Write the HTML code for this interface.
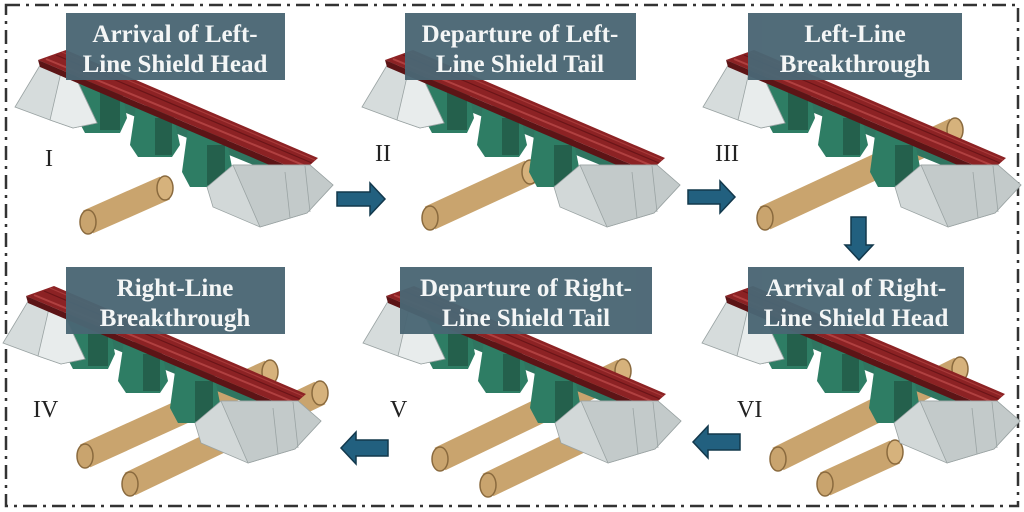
<!DOCTYPE html>
<html><head><meta charset="utf-8"><style>
html,body{margin:0;padding:0;background:#fff;}
svg{display:block;}
.lbl{font-family:"Liberation Serif",serif;font-weight:bold;font-size:25px;fill:#f4f6f6;text-anchor:middle;}
.rn{font-family:"Liberation Serif",serif;font-size:24px;fill:#222;}
</style></head><body>
<svg width="1024" height="512" viewBox="0 0 1024 512" xmlns="http://www.w3.org/2000/svg">
<defs>
<g id="bridge">
  <polygon points="60,72 300,172 300,184 60,86" fill="#2f7560"/>
  <polygon points="80,78 120,80 127,118 120,133 85,133 77,118" fill="#2e7d64"/>
  <polygon points="100,88 120,88 120,130 100,130" fill="#24604c"/>
  <polygon points="136,105 172,108 180,145 172,157 138,157 130,145" fill="#2e7d64"/>
  <polygon points="155,118 172,118 172,155 155,155" fill="#24604c"/>
  <polygon points="188,128 225,132 233,172 225,187 190,187 182,172" fill="#2e7d64"/>
  <polygon points="207,145 225,145 225,185 207,185" fill="#24604c"/>
  <polygon points="15,107 42,62 73,72 97,123 73,128 50,120" fill="#d6dcdc" stroke="#9aa3a3" stroke-width="0.8"/>
  <polygon points="50,120 62,68 73,72 97,123 73,128" fill="#e8ecec" stroke="#9aa3a3" stroke-width="0.8"/>
  <polygon points="38,60 66,50 318,158 302,172" fill="#8c2224"/>
  <line x1="46" y1="59" x2="308" y2="167" stroke="#b04040" stroke-width="2"/>
  <line x1="56" y1="55" x2="312" y2="163" stroke="#6a1518" stroke-width="1.2"/>
  <line x1="62" y1="52" x2="315" y2="160" stroke="#a83a3a" stroke-width="1.2"/>
  <polygon points="38,60 302,172 300,178 40,67" fill="#5c1416"/>
  <polygon points="207,187 233,165 310,165 333,185 307,213 260,227 213,207" fill="#d2d8d8" stroke="#9aa3a3" stroke-width="0.8"/>
  <polygon points="233,165 260,227 307,213 333,185 310,165" fill="#c3caca" stroke="#9aa3a3" stroke-width="0.8"/>
  <line x1="285" y1="172" x2="290" y2="218" stroke="#9aa3a3" stroke-width="0.8"/>
  <line x1="305" y1="166" x2="310" y2="212" stroke="#9aa3a3" stroke-width="0.8"/>
</g>
</defs>

<rect x="6" y="5" width="1012" height="501" fill="none" stroke="#333" stroke-width="2.5" stroke-dasharray="14,6,3,6"/>

<g stroke-linecap="butt">
  <line x1="88" y1="222" x2="165" y2="188" stroke="#c9a46e" stroke-width="25"/>
  <line x1="430" y1="218" x2="530" y2="172" stroke="#c9a46e" stroke-width="25"/>
  <line x1="765" y1="218" x2="955" y2="130" stroke="#c9a46e" stroke-width="25"/>
  <line x1="85" y1="456" x2="270" y2="372" stroke="#c9a46e" stroke-width="25"/>
  <line x1="130" y1="484" x2="320" y2="393" stroke="#c9a46e" stroke-width="25"/>
  <line x1="440" y1="459" x2="623" y2="371" stroke="#c9a46e" stroke-width="25"/>
  <line x1="488" y1="485" x2="640" y2="412" stroke="#c9a46e" stroke-width="25"/>
  <line x1="778" y1="459" x2="960" y2="369" stroke="#c9a46e" stroke-width="25"/>
  <line x1="825" y1="484" x2="895" y2="452" stroke="#c9a46e" stroke-width="25"/>
  <g fill="#c9a46e" stroke="#8a6a3e" stroke-width="1.5">
  <ellipse cx="88" cy="222" rx="8" ry="12"/>
  <ellipse cx="430" cy="218" rx="8" ry="12"/>
  <ellipse cx="765" cy="218" rx="8" ry="12"/>
  <ellipse cx="85" cy="456" rx="8" ry="12"/>
  <ellipse cx="130" cy="484" rx="8" ry="12"/>
  <ellipse cx="440" cy="459" rx="8" ry="12"/>
  <ellipse cx="488" cy="485" rx="8" ry="12"/>
  <ellipse cx="778" cy="459" rx="8" ry="12"/>
  <ellipse cx="825" cy="484" rx="8" ry="12"/>
  <ellipse cx="955" cy="130" rx="8" ry="12" fill="#d6b27c"/>
  <ellipse cx="960" cy="369" rx="8" ry="12" fill="#d6b27c"/>
  <ellipse cx="623" cy="371" rx="8" ry="12" fill="#d6b27c"/>
  <ellipse cx="270" cy="372" rx="8" ry="12" fill="#d6b27c"/>
  <ellipse cx="320" cy="393" rx="8" ry="12" fill="#d6b27c"/>
  <ellipse cx="165" cy="188" rx="8" ry="12" fill="#d6b27c"/>
  <ellipse cx="530" cy="172" rx="8" ry="12" fill="#d6b27c"/>
  <ellipse cx="895" cy="452" rx="8" ry="12" fill="#d6b27c"/>
  </g>
</g>

<use href="#bridge" transform="translate(0,0)"/>
<use href="#bridge" transform="translate(347,0)"/>
<use href="#bridge" transform="translate(688,0)"/>
<use href="#bridge" transform="translate(-12,236)"/>
<use href="#bridge" transform="translate(348,236)"/>
<use href="#bridge" transform="translate(687,236)"/>

<g fill="#4a6674" opacity="0.96">
  <rect x="66" y="13" width="219" height="67"/>
  <rect x="405" y="13" width="231" height="67"/>
  <rect x="748" y="13" width="214" height="67"/>
  <rect x="66" y="267" width="219" height="67"/>
  <rect x="400" y="267" width="252" height="67"/>
  <rect x="748" y="267" width="216" height="67"/>
</g>
<text class="lbl" x="175" y="42">Arrival of Left-</text>
<text class="lbl" x="175" y="72">Line Shield Head</text>
<text class="lbl" x="520" y="42">Departure of Left-</text>
<text class="lbl" x="520" y="72">Line Shield Tail</text>
<text class="lbl" x="855" y="42">Left-Line</text>
<text class="lbl" x="855" y="72">Breakthrough</text>
<text class="lbl" x="175" y="296">Right-Line</text>
<text class="lbl" x="175" y="326">Breakthrough</text>
<text class="lbl" x="526" y="296">Departure of Right-</text>
<text class="lbl" x="526" y="326">Line Shield Tail</text>
<text class="lbl" x="856" y="296">Arrival of Right-</text>
<text class="lbl" x="856" y="326">Line Shield Head</text>

<text class="rn" x="45" y="166">I</text>
<text class="rn" x="375" y="161">II</text>
<text class="rn" x="715" y="161">III</text>
<text class="rn" x="33" y="417">IV</text>
<text class="rn" x="390" y="417">V</text>
<text class="rn" x="737" y="417">VI</text>

<g fill="#22607f" stroke="#12384c" stroke-width="1.5">
  <polygon points="337,192 370,192 370,183 385,199 370,215 370,206 337,206"/>
  <polygon points="688,190 720,190 720,181 735,197 720,213 720,204 688,204"/>
  <polygon points="851,217 866,217 866,245 873,245 859,260 845,245 851,245"/>
  <polygon points="388,440 356,440 356,432 341,448 356,464 356,456 388,456"/>
  <polygon points="740,434 708,434 708,426 693,442 708,458 708,450 740,450"/>
</g>
</svg>
</body></html>
